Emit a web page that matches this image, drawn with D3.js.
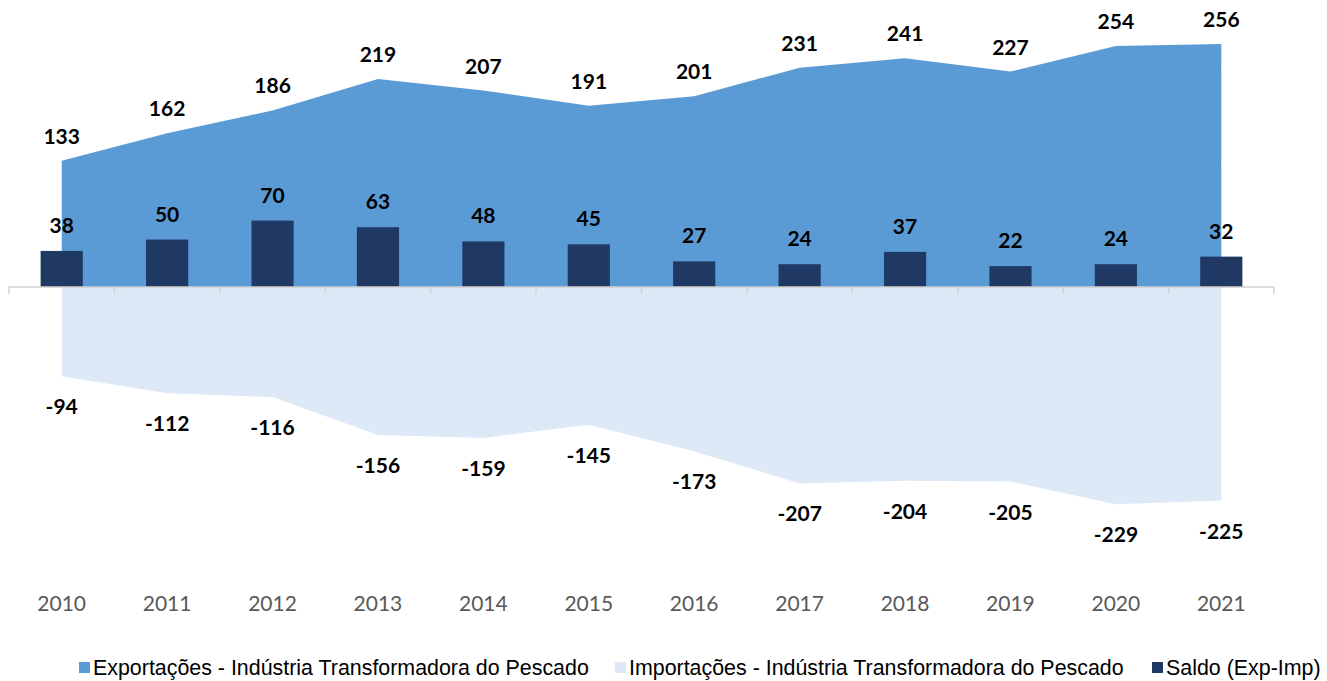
<!DOCTYPE html>
<html>
<head>
<meta charset="utf-8">
<script src="https://cdn.jsdelivr.net/npm/d3@7"></script>
<style>
  body { margin: 0; background: #fff; }
  svg { display: block; }
</style>
</head>
<body>
<svg id="chart" width="1327" height="681"></svg>
<script>
// chart data
const years = ["2010","2011","2012","2013","2014","2015","2016","2017","2018","2019","2020","2021"];
const exportacoes = [133,162,186,219,207,191,201,231,241,227,254,256];
const importacoes = [-94,-112,-116,-156,-159,-145,-173,-207,-204,-205,-229,-225];
const saldo = [38,50,70,63,48,45,27,24,37,22,24,32];
const legendLabels = [
  "Exportações - Indústria Transformadora do Pescado",
  "Importações - Indústria Transformadora do Pescado",
  "Saldo (Exp-Imp)"
];

const svg = d3.select("#chart");
const colExp = "#5b9bd5", colImp = "#dde9f6", colSaldo = "#203864";

const x = d3.scaleBand().domain(years).range([9, 1274]);
const y = d3.scaleLinear().domain([0, 256]).range([287, 44]);
const cx = d => x(d) + x.bandwidth() / 2;

// areas
const areaExp = d3.area()
  .x((d, i) => cx(years[i]))
  .y0(y(0))
  .y1(d => y(d));
svg.append("path").datum(exportacoes).attr("d", areaExp).attr("fill", colExp);
svg.append("path").datum(importacoes).attr("d", areaExp).attr("fill", colImp);

// bars
const bw = x.bandwidth() * 0.4;
svg.append("g").selectAll("rect")
  .data(saldo)
  .join("rect")
    .attr("x", (d, i) => cx(years[i]) - bw / 2)
    .attr("y", d => y(d))
    .attr("width", bw)
    .attr("height", d => y(0) - y(d))
    .attr("fill", colSaldo);

// axis line + ticks
const axis = svg.append("g");
axis.append("line")
  .attr("x1", x.range()[0]).attr("x2", x.range()[1])
  .attr("y1", y(0)).attr("y2", y(0))
  .attr("stroke", "#d0d0d0").attr("stroke-width", 1.3);
axis.selectAll("line.tk")
  .data(years.concat(["end"]))
  .join("line")
    .attr("class", "tk")
    .attr("x1", (d, i) => x.range()[0] + i * x.step())
    .attr("x2", (d, i) => x.range()[0] + i * x.step())
    .attr("y1", y(0)).attr("y2", y(0) + 7)
    .attr("stroke", "#d0d0d0").attr("stroke-width", 1.3);

// year labels
svg.append("g").selectAll("text")
  .data(years)
  .join("text")
    .attr("x", d => cx(d))
    .attr("y", 611)
    .attr("text-anchor", "middle")
    .attr("font-family", "Lato, 'Open Sans', sans-serif")
    .attr("font-size", 21)
    .attr("fill", "#595959")
    .text(d => d);

// data labels
const lbl = (arr, dy) => svg.append("g").selectAll("text")
  .data(arr)
  .join("text")
    .attr("x", (d, i) => cx(years[i]))
    .attr("y", d => y(d) + dy)
    .attr("text-anchor", "middle")
    .attr("font-family", "Lato, 'Open Sans', sans-serif")
    .attr("font-weight", "bold")
    .attr("font-size", 21)
    .attr("fill", "#000")
    .text(d => d);
lbl(exportacoes, -17);
lbl(saldo, -18);
lbl(importacoes, 38);

// legend
const legX = [79, 615, 1152];
const legCol = [colExp, colImp, colSaldo];
const leg = svg.append("g").selectAll("g")
  .data(legendLabels)
  .join("g")
    .attr("transform", (d, i) => `translate(${legX[i]},668)`);
leg.append("rect")
  .attr("x", 0).attr("y", -6).attr("width", 11).attr("height", 11)
  .attr("fill", (d, i) => legCol[i]);
leg.append("text")
  .attr("x", 14).attr("y", 7)
  .attr("font-family", "'Liberation Sans', Arial, sans-serif")
  .attr("font-size", 21.4)
  .attr("fill", "#000")
  .text(d => d);
</script>
</body>
</html>
